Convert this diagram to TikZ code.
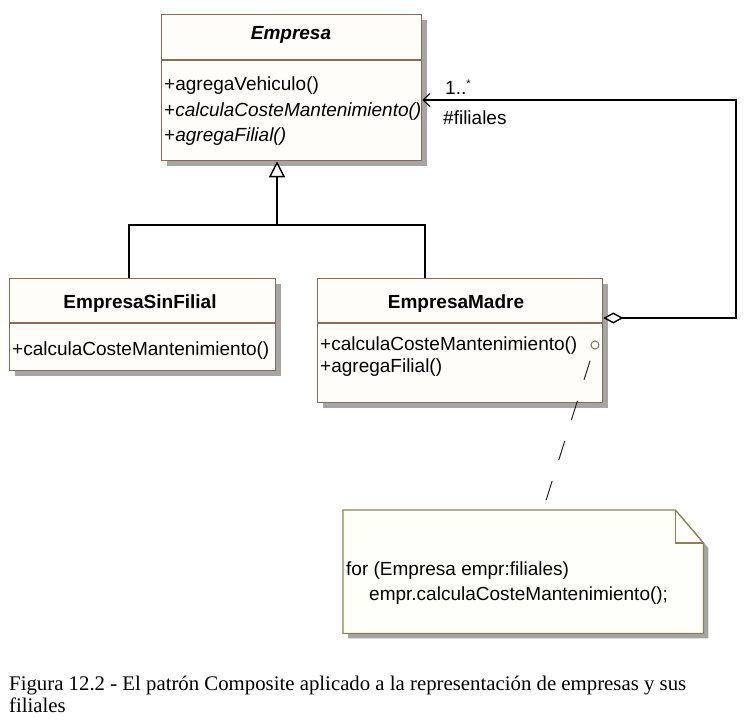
\documentclass[tikz,border=0pt]{standalone}
\usepackage{fontspec}
\setmainfont{Liberation Sans}
\newfontfamily\capfont{Liberation Serif}
\usetikzlibrary{arrows.meta,shadows,calc}
\definecolor{boxborder}{RGB}{140,105,80}
\definecolor{boxfill}{RGB}{255,253,250}
\definecolor{shadowgray}{RGB}{165,165,165}
\definecolor{noteborder}{RGB}{140,130,80}
\definecolor{notefill}{RGB}{255,255,250}
\tikzset{
  classbox/.style={draw=boxborder, line width=1.3pt, fill=boxfill, rectangle, inner sep=0pt, anchor=north west,
    drop shadow={shadow xshift=5pt, shadow yshift=-5pt, fill=shadowgray, opacity=1}},
  divider/.style={draw=boxborder, line width=1.2pt},
  txt/.style={inner sep=0pt, font=\fontsize{19}{22}\selectfont},
  meth/.style={txt, anchor=base west},
  ctitle/.style={txt, anchor=base, font=\fontsize{19}{22}\selectfont\bfseries},
  conn/.style={draw=black, line width=1.4pt},
  dashconn/.style={draw=black!85, line width=1pt, dash pattern=on 20pt off 22pt, dash phase=-12pt},
}
\begin{document}
\begin{tikzpicture}[x=1pt,y=-1pt]
\useasboundingbox (0,0) rectangle (751,725);

% ---- Empresa
\node[classbox, minimum width=260pt, minimum height=146pt] (emp) at (161,14) {};
\draw[divider] (emp.west |- 0,60) -- (emp.east |- 0,60);
\node[ctitle, font=\fontsize{19}{22}\selectfont\bfseries\itshape] (empT) at (291,40) {Empresa};
\node[meth] (empM1) at (164,90) {+agregaVehiculo()};
\node[meth] (empM2) at (164,116) {+\textit{calculaCosteMantenimiento()}};
\node[meth] (empM3) at (164,141.5) {+\textit{agregaFilial()}};

% ---- EmpresaSinFilial
\node[classbox, minimum width=266pt, minimum height=92pt] (sin) at (9,278) {};
\draw[divider] (sin.west |- 0,323) -- (sin.east |- 0,323);
\node[ctitle] (sinT) at (140,308.5) {EmpresaSinFilial};
\node[meth] (sinM1) at (12,355) {+calculaCosteMantenimiento()};

% ---- EmpresaMadre
\node[classbox, minimum width=285pt, minimum height=124pt] (madre) at (317,278) {};
\draw[divider] (madre.west |- 0,323) -- (madre.east |- 0,323);
\node[ctitle] (madreT) at (456,308.5) {EmpresaMadre};
\node[meth] (madreM1) at (320,350.5) {+calculaCosteMantenimiento()};
\node[meth] (madreM2) at (320,372.5) {+agregaFilial()};

% ---- inheritance
\coordinate (jm) at (277,225);
\draw[conn] (sin.north -| 129,0) |- (jm) -| (madre.north -| 425,0);
\draw[conn, -{Triangle[open, length=16pt, width=16pt, fill=white]}] (jm) -- (emp.south -| jm);

% ---- aggregation
\coordinate (c1) at (736,318);
\coordinate (c2) at (736,100);
\draw[conn, {Diamond[open, length=20pt, width=11pt, fill=white]}-{Straight Barb[length=7pt, width=13pt, line width=1pt]}]
  (madre.east |- c1) -- (c1) -- (c2) -- (emp.east |- c2);
\node[meth] (mult) at (445,94) {1..\raisebox{7pt}{\fontsize{11}{11}\selectfont *}};
\node[meth] (role) at (443,124) {\#filiales};

% ---- note
\node[inner sep=0pt, minimum width=360pt, minimum height=123pt, anchor=north west] (note) at (343,510) {};
\fill[shadowgray] ($(note.north west)+(5,5)$) -- ($(note.north east)+(-23,5)$) -- ($(note.north east)+(5,38)$)
  -- ($(note.south east)+(5,5)$) -- ($(note.south west)+(5,5)$) -- cycle;
\draw[draw=noteborder, fill=notefill, line width=1.3pt, line join=miter]
  (note.north west) -- ($(note.north east)+(-28,0)$) -- ($(note.north east)+(0,33)$) -- (note.south east) -- (note.south west) -- cycle;
\draw[draw=noteborder, line width=1.3pt] ($(note.north east)+(-28,0)$) |- ($(note.north east)+(0,33)$);
\node[meth] (nt1) at (346,575) {for (Empresa empr:filiales)};
\node[meth] (nt2) at (369,600) {empr.calculaCosteMantenimiento();};

% ---- port + dashed link
\node[draw=boxborder, circle, minimum size=8pt, inner sep=0pt, line width=1pt, fill=white] (port) at (595,345) {};
\draw[dashconn] (port) -- (note.north -| 543,0);

% ---- caption
\node[inner sep=0pt, anchor=base west, font=\capfont\fontsize{20.8}{22}\selectfont] (cap1) at (9,690)
  {Figura 12.2 - El patrón Composite aplicado a la representación de empresas y sus};
\node[inner sep=0pt, anchor=base west, font=\capfont\fontsize{20.8}{22}\selectfont] (cap2) at (9,712) {filiales};
\end{tikzpicture}
\end{document}
